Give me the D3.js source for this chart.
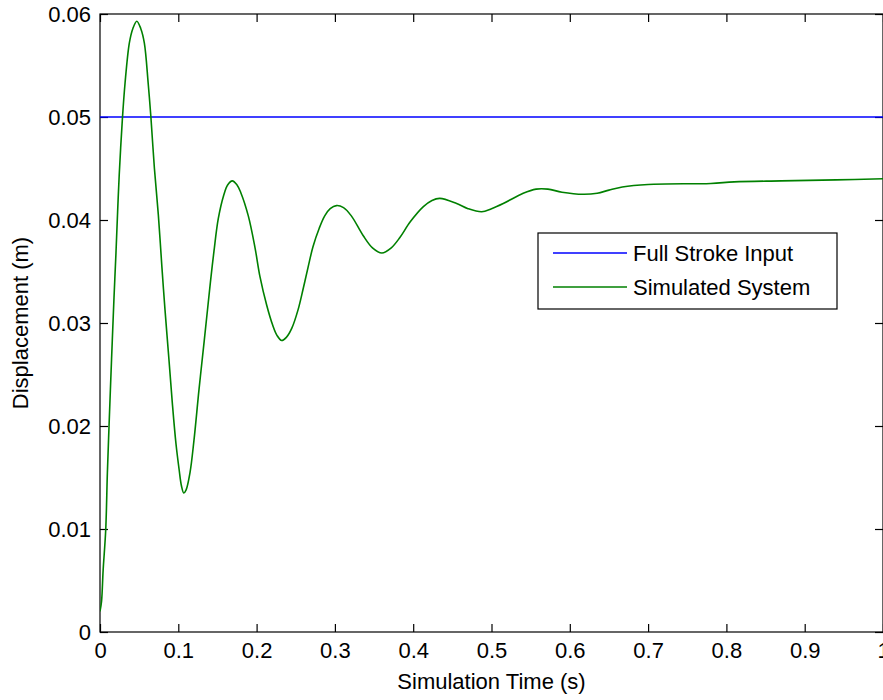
<!DOCTYPE html>
<html>
<head>
<meta charset="utf-8">
<script src="https://cdn.jsdelivr.net/npm/d3@7"></script>
<style>
  html, body { margin: 0; padding: 0; background: #fff; }
  svg { display: block; }
  text { font-family: "Liberation Sans", Arial, Helvetica, sans-serif; fill: #000; }
</style>
</head>
<body>
<svg id="chart" width="883" height="700"></svg>
<script>
// ---- data ----
const seriesNames = ["Full Stroke Input", "Simulated System"];
const inputTime = [0, 1];
const inputValue = [0.05, 0.05];
const simTime = [
  0.000, 0.002, 0.004, 0.0073, 0.0094, 0.0115, 0.0136, 0.0157, 0.0179, 0.0204,
  0.0225, 0.0245, 0.0285, 0.032, 0.0375, 0.042, 0.047, 0.052, 0.0566, 0.0615,
  0.065, 0.0695, 0.0745, 0.079, 0.083, 0.088, 0.0924, 0.097, 0.101, 0.104,
  0.107, 0.110, 0.115, 0.120, 0.1264, 0.133, 0.138, 0.1418, 0.1456, 0.151,
  0.158, 0.163, 0.169, 0.175, 0.1796, 0.1894, 0.198, 0.2043, 0.213, 0.2205,
  0.226, 0.232, 0.238, 0.245, 0.253, 0.2597, 0.266, 0.272, 0.280, 0.287,
  0.294, 0.302, 0.311, 0.321, 0.336, 0.348, 0.360, 0.372, 0.383, 0.396,
  0.413, 0.424, 0.434, 0.4555, 0.470, 0.4875, 0.500, 0.515, 0.5405, 0.557,
  0.572, 0.590, 0.617, 0.635, 0.650, 0.667, 0.700, 0.780, 0.810, 0.870,
  0.940, 1.000
];
const simValue = [
  0.0020, 0.0030, 0.0060, 0.0099, 0.0154, 0.0199, 0.0242, 0.0283, 0.0325, 0.0368,
  0.0408, 0.0443, 0.0497, 0.0533, 0.0572, 0.0586, 0.0593, 0.0586, 0.0572, 0.0533,
  0.0500, 0.0450, 0.0405, 0.0355, 0.0313, 0.0265, 0.0222, 0.0183, 0.0158, 0.0142,
  0.0135, 0.0138, 0.0155, 0.0186, 0.0235, 0.0282, 0.0318, 0.0345, 0.0370, 0.0401,
  0.0424, 0.0434, 0.0438, 0.0434, 0.0427, 0.0404, 0.0373, 0.0345, 0.0317, 0.0298,
  0.0288, 0.0283, 0.0286, 0.0295, 0.0313, 0.0334, 0.0355, 0.0374, 0.0392, 0.0404,
  0.0411, 0.0414, 0.0412, 0.0404, 0.0385, 0.0373, 0.0368, 0.0373, 0.0383, 0.0398,
  0.0413, 0.0419, 0.0421, 0.0416, 0.0411, 0.0408, 0.0411, 0.0416, 0.0426, 0.0430,
  0.0430, 0.0427, 0.0425, 0.0426, 0.0429, 0.0432, 0.04345, 0.04355, 0.0437, 0.0438,
  0.0439, 0.0440
];
const xTicks = [0, 0.1, 0.2, 0.3, 0.4, 0.5, 0.6, 0.7, 0.8, 0.9, 1];
const xTickLabels = ["0", "0.1", "0.2", "0.3", "0.4", "0.5", "0.6", "0.7", "0.8", "0.9", "1"];
const yTicks = [0, 0.01, 0.02, 0.03, 0.04, 0.05, 0.06];
const yTickLabels = ["0", "0.01", "0.02", "0.03", "0.04", "0.05", "0.06"];
const xLabel = "Simulation Time (s)";
const yLabel = "Displacement (m)";

(function () {
// ---- layout ----
const svg = d3.select("#chart");
const pL = 100, pR = 883, pT = 14, pB = 632;
const x = d3.scaleLinear().domain([0, 1]).range([pL, pR]);
const y = d3.scaleLinear().domain([0, 0.06]).range([pB, pT]);
const fontSize = 22;

// axes
const gx = svg.append("g").attr("transform", `translate(0,${pB})`)
  .call(d3.axisBottom(x).tickValues(xTicks).tickFormat((d, i) => xTickLabels[i])
    .tickSizeInner(-8).tickSizeOuter(0).tickPadding(10));
const gy = svg.append("g").attr("transform", `translate(${pL},0)`)
  .call(d3.axisLeft(y).tickValues(yTicks).tickFormat((d, i) => yTickLabels[i])
    .tickSizeInner(-8).tickSizeOuter(0).tickPadding(9));
const gt = svg.append("g").attr("transform", `translate(0,${pT})`)
  .call(d3.axisTop(x).tickValues(xTicks).tickFormat("").tickSizeInner(-8).tickSizeOuter(0));
const gr = svg.append("g").attr("transform", `translate(${pR},0)`)
  .call(d3.axisRight(y).tickValues(yTicks).tickFormat("").tickSizeInner(-8).tickSizeOuter(0));
[gx, gy, gt, gr].forEach(g => {
  g.select(".domain").remove();
  g.selectAll(".tick line").attr("stroke", "#000").attr("stroke-width", 1.2);
  g.selectAll(".tick text").attr("font-size", fontSize)
    .attr("font-family", '"Liberation Sans", Arial, sans-serif').attr("fill", "#000");
});

// frame
svg.append("rect").attr("x", pL).attr("y", pT)
  .attr("width", pR - pL).attr("height", pB - pT)
  .attr("fill", "none").attr("stroke", "#000").attr("stroke-width", 1.2);

// clip
svg.append("clipPath").attr("id", "clip").append("rect")
  .attr("x", pL).attr("y", pT).attr("width", pR - pL).attr("height", pB - pT);

const line = d3.line().x(d => x(d[0])).y(d => y(d[1]));
const inputData = inputTime.map((t, i) => [t, inputValue[i]]);
const simData = simTime.map((t, i) => [t, simValue[i]]);

const plot = svg.append("g").attr("clip-path", "url(#clip)");
plot.append("path").datum(inputData).attr("d", line)
  .attr("fill", "none").attr("stroke", "#0000ff").attr("stroke-width", 1.6);
plot.append("path").datum(simData).attr("d", line.curve(d3.curveCatmullRom.alpha(0.5)))
  .attr("fill", "none").attr("stroke", "#008000").attr("stroke-width", 1.6);

// labels
svg.append("text").attr("x", (pL + pR) / 2).attr("y", 689)
  .attr("text-anchor", "middle").attr("font-size", fontSize).text(xLabel);
svg.append("text").attr("transform", `translate(28,${(pT + pB) / 2}) rotate(-90)`)
  .attr("text-anchor", "middle").attr("font-size", fontSize).text(yLabel);

// legend
const lg = svg.append("g");
lg.append("rect").attr("x", 538).attr("y", 233).attr("width", 299).attr("height", 76)
  .attr("fill", "#fff").attr("stroke", "#000").attr("stroke-width", 1.2);
const legColors = ["#0000ff", "#008000"];
seriesNames.forEach((name, i) => {
  const ly = 253 + i * 34;
  lg.append("line").attr("x1", 553).attr("x2", 627).attr("y1", ly).attr("y2", ly)
    .attr("stroke", legColors[i]).attr("stroke-width", 1.6);
  lg.append("text").attr("x", 633).attr("y", ly).attr("dy", "0.35em")
    .attr("font-size", fontSize).text(name);
});
})();
</script>
</body>
</html>
